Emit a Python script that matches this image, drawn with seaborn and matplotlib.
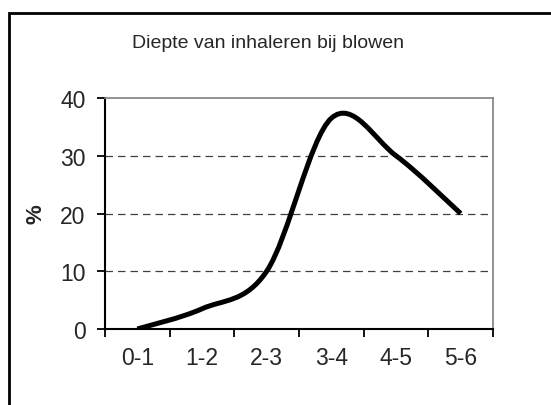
import numpy as np
import seaborn as sns
import matplotlib.pyplot as plt
from matplotlib.path import Path
from matplotlib.patches import PathPatch, Rectangle

# gegevens uit de grafiek
categories = ['0-1', '1-2', '2-3', '3-4', '4-5', '5-6']
percent = [0, 3.5, 10, 36.5, 30, 20]
y_ticks = [0, 10, 20, 30, 40]
title = 'Diepte van inhaleren bij blowen'

sns.set_style('white')
plt.rcParams['font.family'] = ['Liberation Sans', 'DejaVu Sans']

fig = plt.figure(figsize=(5.51, 4.06), dpi=100)
ax = fig.add_axes([105 / 551, 1 - 330 / 406, 388 / 551, 231 / 406])

# Excel-achtige vloeiende lijn: Bezier-segmenten tussen de datapunten
xs = np.arange(len(percent), dtype=float)
ys = np.array(percent, dtype=float)
px = np.concatenate([[xs[0]], xs, [xs[-1]]])
py = np.concatenate([[ys[0]], ys, [ys[-1]]])
verts = [(xs[0], ys[0])]
codes = [Path.MOVETO]
for i in range(len(xs) - 1):
    j = i + 1
    c1 = (px[j] + (px[j + 1] - px[j - 1]) / 6, py[j] + (py[j + 1] - py[j - 1]) / 6)
    c2 = (px[j + 1] - (px[j + 2] - px[j]) / 6, py[j + 1] - (py[j + 2] - py[j]) / 6)
    verts += [c1, c2, (xs[i + 1], ys[i + 1])]
    codes += [Path.CURVE4] * 3
ax.add_patch(PathPatch(Path(verts, codes), facecolor='none', edgecolor='black',
                       lw=3.6, capstyle='butt', joinstyle='round', zorder=3))

ax.set_xlim(-0.5, len(categories) - 0.5)
ax.set_ylim(0, 40)

# rasterlijnen
for v in y_ticks[1:-1]:
    ax.axhline(v, color='#404040', lw=0.9, ls=(0, (6, 4)), zorder=1)

ax.set_yticks(y_ticks)
ax.set_yticklabels([str(v) for v in y_ticks], fontsize=16.5)
ax.set_xticks(np.arange(len(categories) + 1) - 0.5)
ax.set_xticklabels([])
ax.set_xticks(xs, minor=True)
ax.set_xticklabels(categories, minor=True, fontsize=16.5)
ax.tick_params(axis='y', which='major', direction='out', length=6, width=1.3,
               color='black', left=True, pad=8)
ax.tick_params(axis='x', which='major', direction='out', length=6, width=1.3,
               color='black', bottom=True)
ax.tick_params(axis='x', which='minor', length=0, pad=12)

for side in ['left', 'bottom']:
    ax.spines[side].set_color('black')
    ax.spines[side].set_linewidth(1.5)
for side in ['top', 'right']:
    ax.spines[side].set_color('#808080')
    ax.spines[side].set_linewidth(1.2)

fig.text(36 / 551, 1 - 214 / 406, '%', rotation=90, fontsize=16,
         fontweight='bold', ha='center', va='center')
fig.text(268 / 551, 1 - 43 / 406, title, fontsize=14, ha='center', va='center')

# kader rond de grafiek
fig.add_artist(Rectangle((9 / 551, -0.2), 1.0, 1.2 - 14 / 406,
                         transform=fig.transFigure, fill=False,
                         edgecolor='black', lw=2))

fig.savefig('out.png', dpi=100)
